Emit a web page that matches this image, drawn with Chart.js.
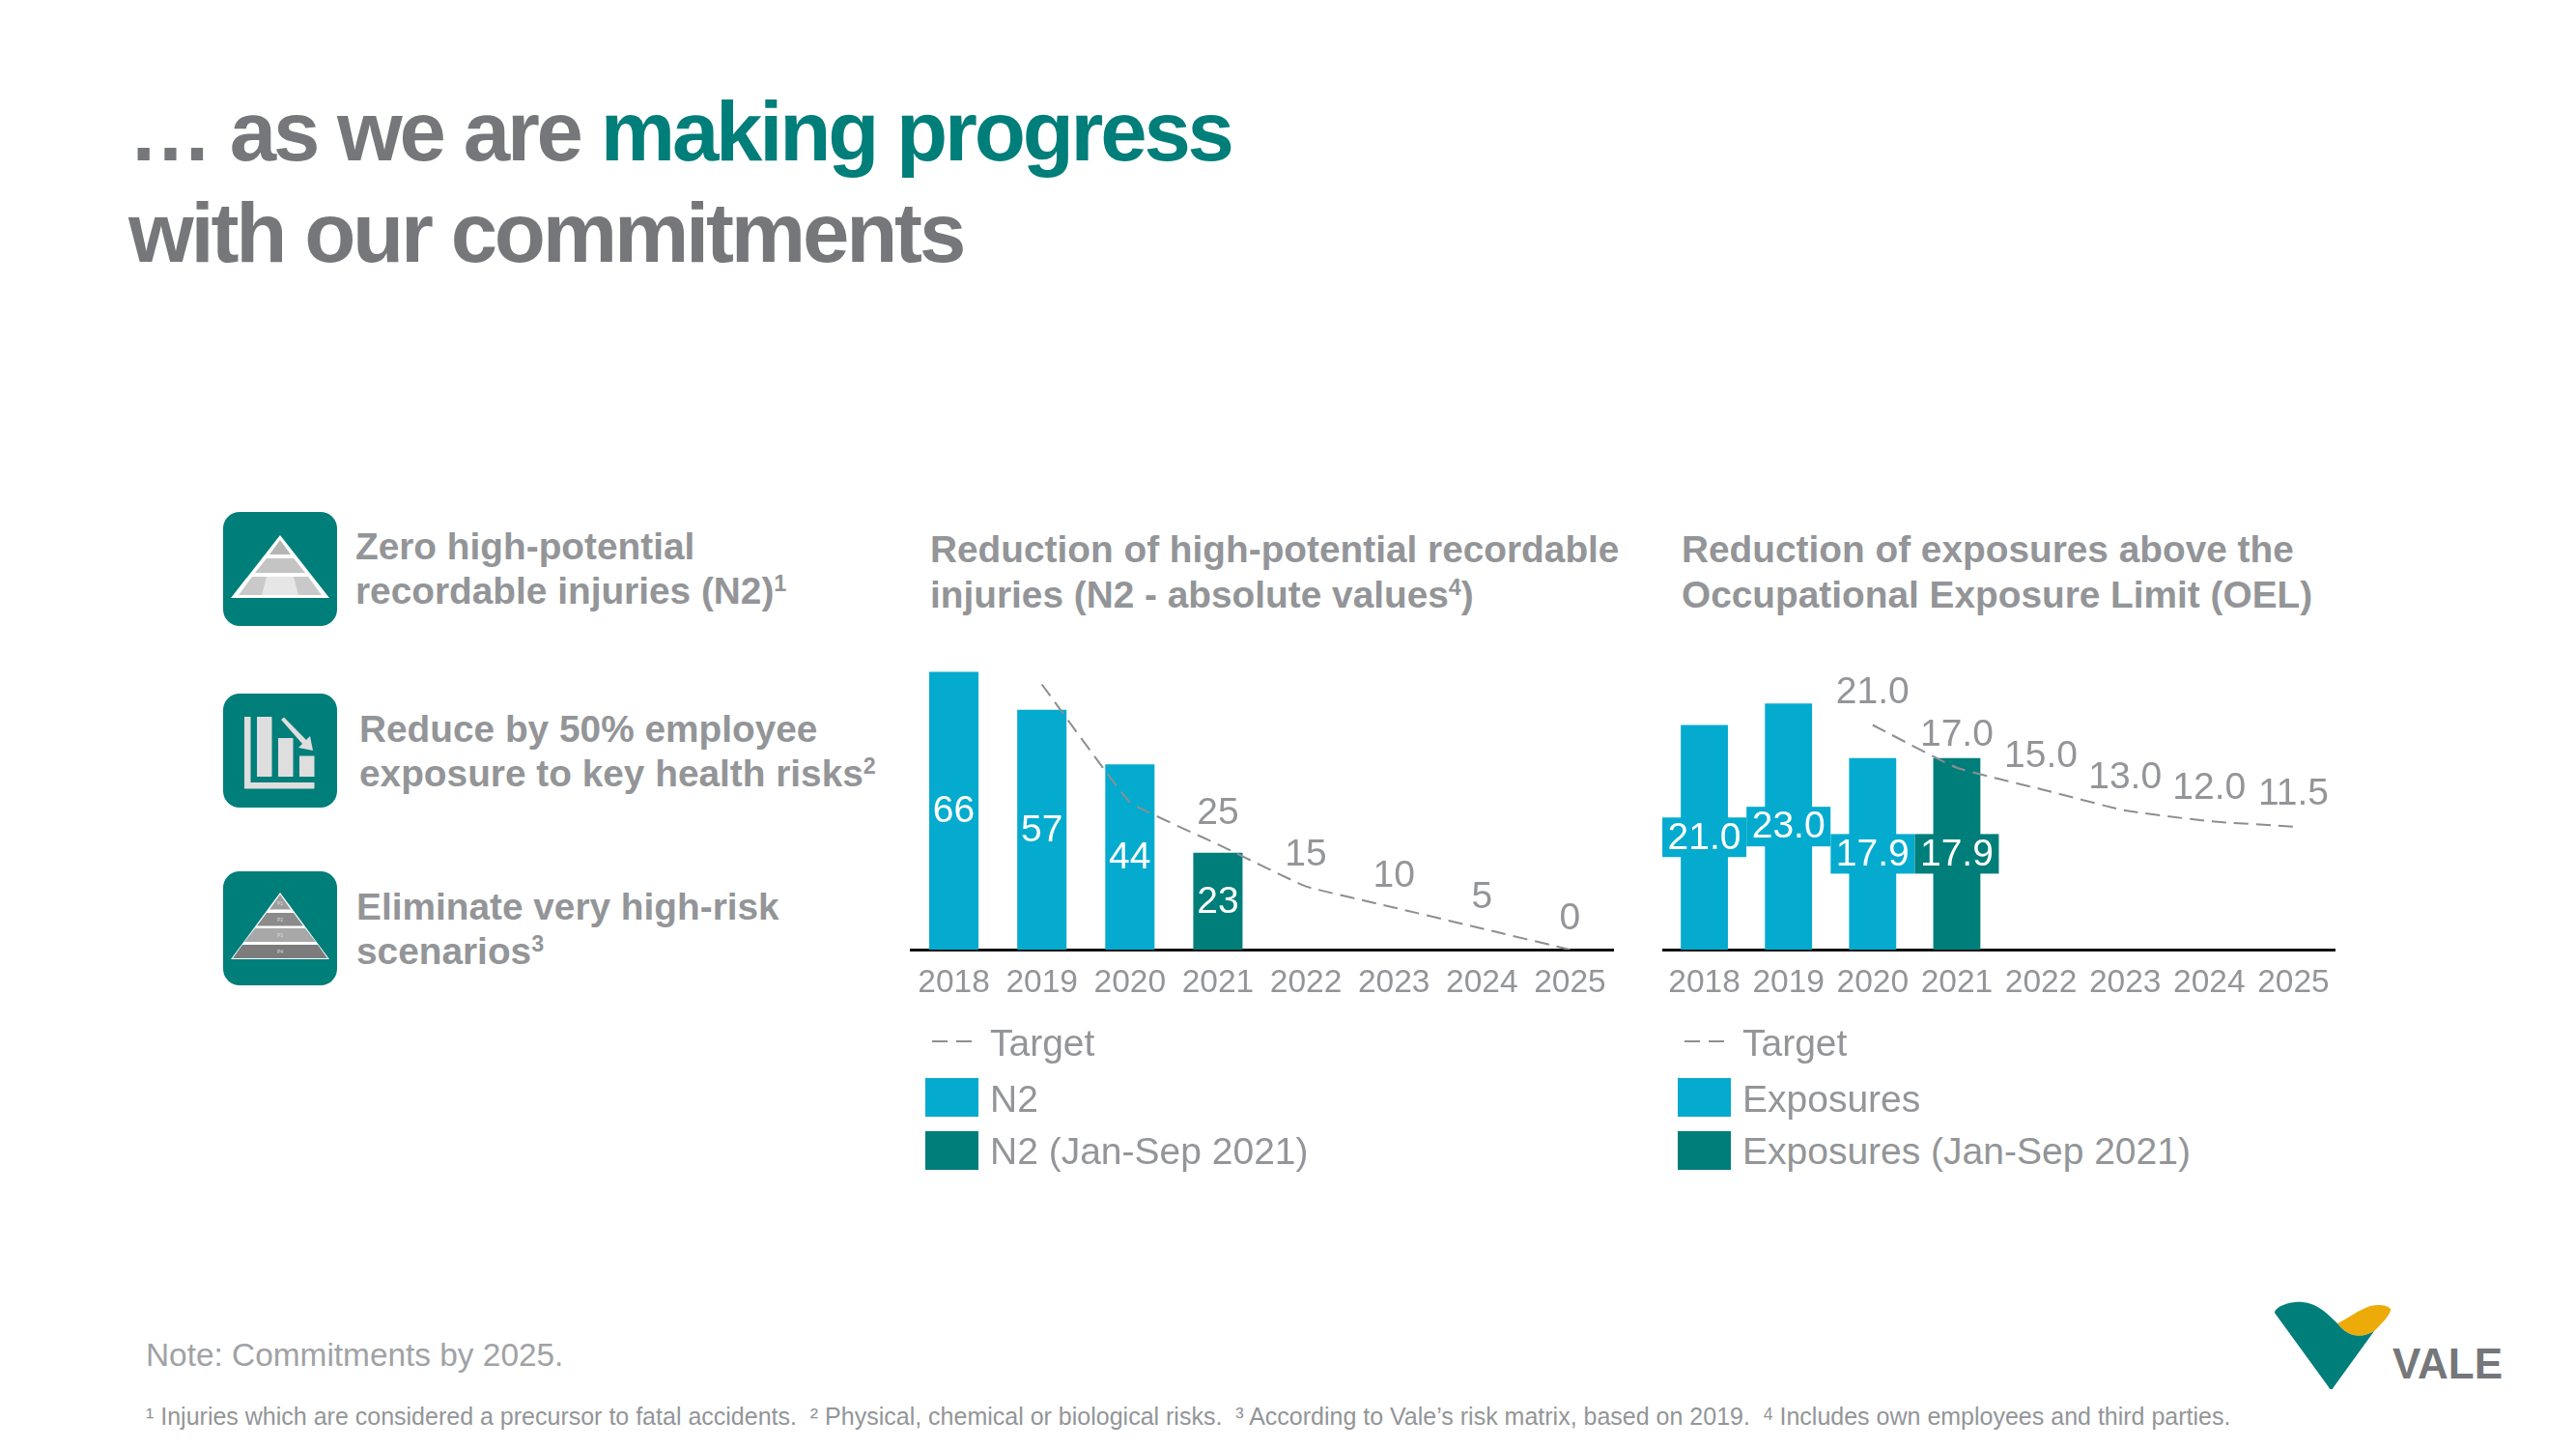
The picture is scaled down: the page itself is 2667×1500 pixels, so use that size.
<!DOCTYPE html>
<html>
<head>
<meta charset="utf-8">
<title>Vale commitments</title>
<script src="https://cdn.jsdelivr.net/npm/chart.js@4"></script>
<style>
  html, body { margin: 0; padding: 0; background: #fff; }
  body { width: 2667px; height: 1500px; position: relative; overflow: hidden; font-family: "Liberation Sans", Arial, sans-serif; color: #939598; }
  .abs { position: absolute; white-space: nowrap; }
  canvas { position: absolute; }
  .title { left: 133px; font-weight: bold; font-size: 87px; letter-spacing: -3.2px; color: #75777a; line-height: 105px; }
  .title b { color: #007e7a; }
  .bold { font-weight: bold; font-size: 38.8px; line-height: 46px; color: #939598; }
  sup { font-size: 60%; line-height: 0; vertical-align: 0.55em; }
  .legend-text { font-size: 39px; line-height: 44px; color: #939598; }
  .swatch { position: absolute; }
</style>
</head>
<body>

<div class="abs title" style="top:83px"><span>… as we are </span><b>making progress</b><br>with our commitments</div>

<svg class="abs" style="left:231px;top:530px" width="118" height="118" viewBox="0 0 118 118">
  <rect width="118" height="118" rx="17" fill="#007e7a"/>
  <path d="M59 24 L110 89 H8 Z" fill="#fff"/>
  <path d="M59 29 L70 44 H48 Z" fill="#b5b5b5"/>
  <path d="M45 48 H73 L85 63 H33 Z" fill="#c4c4c4"/>
  <path d="M30 67 H88 L102 86 H16 Z" fill="#c9c9c9"/>
  <path d="M45 67 H73 L78 86 H40 Z" fill="#e6e6e6"/>
</svg>
<svg class="abs" style="left:231px;top:718px" width="118" height="118" viewBox="0 0 118 118">
  <rect width="118" height="118" rx="17" fill="#007e7a"/>
  <g fill="#dedede">
    <path d="M22 24 H28.5 V92 H94.5 V98.5 H22 Z"/>
    <rect x="35" y="24" width="15.5" height="62"/>
    <rect x="57" y="46" width="15.5" height="40"/>
    <rect x="79" y="64.5" width="15.5" height="21.5"/>
    <path d="M60 27 L63 24.500 L86 48 L90 44 L93 59 L78 56 L82 52 Z"/>
  </g>
</svg>
<svg class="abs" style="left:231px;top:902px" width="118" height="118" viewBox="0 0 118 118">
  <rect width="118" height="118" rx="17" fill="#007e7a"/>
  <path d="M59 22 L110 91 H8 Z" fill="#fff"/>
  <path d="M59 24 L70 39.500 H48 Z" fill="#9c9c9c"/>
  <path d="M45 43 H73 L83 56.500 H35 Z" fill="#8b8b8b"/>
  <path d="M33 59 H85 L96 73 H22 Z" fill="#a8a8a8"/>
  <path d="M20 76 H98 L108 90 H10 Z" fill="#7c7c7c"/>
  <g font-family="Liberation Sans" font-size="5" fill="#ddd" text-anchor="middle">
    <text x="59" y="35">P1</text><text x="59" y="52">P2</text><text x="59" y="68">P3</text><text x="59" y="85">P4</text>
  </g>
</svg>

<div class="abs bold" style="left:368px;top:543px">Zero high-potential<br>recordable injuries (N2)<sup>1</sup></div>
<div class="abs bold" style="left:372px;top:732px">Reduce by 50% employee<br>exposure to key health risks<sup>2</sup></div>
<div class="abs bold" style="left:369px;top:916px">Eliminate very high-risk<br>scenarios<sup>3</sup></div>

<div class="abs bold" style="left:963px;top:545px;line-height:47px">Reduction of high-potential recordable<br>injuries (N2 - absolute values<sup>4</sup>)</div>
<div class="abs bold" style="left:1741px;top:545px;line-height:47px">Reduction of exposures above the<br>Occupational Exposure Limit (OEL)</div>

<canvas id="chartN2" width="729" height="405" style="left:942px;top:678px"></canvas>
<canvas id="chartOel" width="697" height="410" style="left:1721px;top:673px"></canvas>

<div id="legendN2"></div>
<div id="legendOel"></div>

<div class="abs" style="left:151px;top:1384px;font-size:33.4px;color:#a0a2a5">Note: Commitments by 2025.</div>
<div class="abs" style="left:151px;top:1452px;font-size:25px;color:#939598">¹ Injuries which are considered a precursor to fatal accidents.&nbsp; ² Physical, chemical or biological risks.&nbsp; ³ According to Vale’s risk matrix, based on 2019.&nbsp; <sup style="font-size:70%;vertical-align:.3em">4</sup> Includes own employees and third parties.</div>

<svg class="abs" style="left:2340px;top:1335px" width="260" height="115" viewBox="2340 1335 260 115">
  <path d="M2420 1370 C2432 1364 2442 1356 2454 1352 C2462 1350 2472 1351 2475 1355 C2476 1360 2466 1370 2458 1378 C2445 1386 2430 1384 2420 1370 Z" fill="#edab0a"/>
  <path d="M2355 1359 C2356 1352 2372 1347 2384 1348 C2398 1349 2408 1358 2420 1370 C2430 1384 2445 1386 2458 1378 L2416 1436 C2415 1439 2412 1439 2411 1436 Z" fill="#007e7a"/>
  <text x="2477" y="1427" font-family="Liberation Sans" font-weight="bold" font-size="44" fill="#75777a">VALE</text>
</svg>

<script>
var years = ['2018', '2019', '2020', '2021', '2022', '2023', '2024', '2025'];

var n2Values = [66, 57, 44, null, null, null, null, null];
var n2Partial = [null, null, null, 23, null, null, null, null];
var n2Target = [null, 63, 35, 25, 15, 10, 5, 0];
var n2TargetLabels = [null, null, null, '25', '15', '10', '5', '0'];

var oelValues = [21.0, 23.0, 17.9, null, null, null, null, null];
var oelPartial = [null, null, null, 17.9, null, null, null, null];
var oelTarget = [null, null, 21.0, 17.0, 15.0, 13.0, 12.0, 11.5];
var oelTargetLabels = [null, null, '21.0', '17.0', '15.0', '13.0', '12.0', '11.5'];

var cyan = '#04abce';
var teal = '#007e7a';
var grey = '#939598';
var lineGrey = '#8c8e90';

// bar values in the middle of the bars, target values above the line
var valueLabels = {
  id: 'valueLabels',
  afterDatasetsDraw: function(chart, args, opts) {
    var ctx = chart.ctx;
    ctx.save();
    ctx.font = opts.fontSize + 'px "Liberation Sans"';
    ctx.textAlign = 'center';
    ctx.textBaseline = 'middle';
    chart.data.datasets.forEach(function(ds, i) {
      var meta = chart.getDatasetMeta(i);
      meta.data.forEach(function(el, j) {
        if (ds.data[j] === null) return;
        if (ds.type === 'line') {
          var txt = opts.targetLabels[j];
          if (txt === null) return;
          ctx.fillStyle = grey;
          ctx.fillText(txt, el.x, el.y - opts.targetGap);
        } else {
          var cy = (el.y + el.base) / 2;
          var val = ds.data[j].toFixed(opts.decimals);
          if (opts.boxWidth) {
            ctx.fillStyle = ds.backgroundColor;
            ctx.fillRect(el.x - opts.boxWidth / 2, cy - opts.boxHeight / 2, opts.boxWidth, opts.boxHeight);
          }
          ctx.fillStyle = '#fff';
          ctx.fillText(val, el.x, cy + 1);
        }
      });
    });
    ctx.restore();
  }
};

function makeChart(id, barName, partialName, bars, partial, target, yMax, tension, labelOpts) {
  var el = document.getElementById(id);
  return new Chart(el.getContext('2d'), {
    type: 'bar',
    data: {
      labels: years,
      datasets: [{
        type: 'line',
        label: 'Target',
        data: target,
        order: 0,
        borderColor: lineGrey,
        borderWidth: 2,
        borderDash: [15, 8],
        pointRadius: 0,
        tension: tension,
        fill: false
      }, {
        label: barName,
        data: bars,
        order: 1,
        grouped: false,
        backgroundColor: cyan,
        barPercentage: 0.56,
        categoryPercentage: 1
      }, {
        label: partialName,
        data: partial,
        order: 1,
        grouped: false,
        backgroundColor: teal,
        barPercentage: 0.56,
        categoryPercentage: 1
      }]
    },
    options: {
      responsive: false,
      animation: false,
      layout: { padding: 0, autoPadding: false },
      plugins: {
        legend: { display: false },
        tooltip: { enabled: false },
        valueLabels: labelOpts
      },
      scales: {
        x: {
          // tick length instead of tick padding, padding eats into the plot width
          grid: { display: false, drawTicks: true, tickLength: 15 },
          border: { color: '#111', width: 3 },
          ticks: { color: grey, font: { family: 'Liberation Sans', size: 33.5 }, padding: 0, maxRotation: 0, autoSkip: false },
          afterFit: function(scale) { scale.height = 100; }
        },
        y: { display: false, min: 0, max: yMax }
      }
    },
    plugins: [valueLabels]
  });
}

var chartN2 = makeChart('chartN2', 'N2', 'N2 (Jan-Sep 2021)', n2Values, n2Partial, n2Target, 70, 0.08,
  { fontSize: 39, decimals: 0, targetLabels: n2TargetLabels, targetGap: 32 });
var chartOel = makeChart('chartOel', 'Exposures', 'Exposures (Jan-Sep 2021)', oelValues, oelPartial, oelTarget, 28, 0.12,
  { fontSize: 39, decimals: 1, targetLabels: oelTargetLabels, targetGap: 33.5, boxWidth: 87, boxHeight: 41 });

// html legend, written from the chart's datasets
function buildLegend(boxId, chart, swatchLeft, textLeft) {
  var box = document.getElementById(boxId);
  var textY = [1058, 1116, 1170];
  var swatchY = [0, 1116, 1171];
  chart.data.datasets.forEach(function(ds, i) {
    if (ds.type === 'line') {
      var line = document.createElement('div');
      line.className = 'swatch';
      line.style.cssText = 'left:' + (swatchLeft + 7) + 'px;top:1077px;width:41px;height:2px;' +
        'background:repeating-linear-gradient(90deg,' + ds.borderColor + ' 0 16px,transparent 16px 25px)';
      box.appendChild(line);
    } else {
      var sw = document.createElement('div');
      sw.className = 'swatch';
      sw.style.cssText = 'left:' + swatchLeft + 'px;top:' + swatchY[i] + 'px;width:55px;height:40px;background:' + ds.backgroundColor;
      box.appendChild(sw);
    }
    var t = document.createElement('div');
    t.className = 'abs legend-text';
    t.style.left = textLeft + 'px';
    t.style.top = textY[i] + 'px';
    t.textContent = ds.label;
    box.appendChild(t);
  });
}
buildLegend('legendN2', chartN2, 958, 1025);
buildLegend('legendOel', chartOel, 1737, 1804);
</script>
</body>
</html>
